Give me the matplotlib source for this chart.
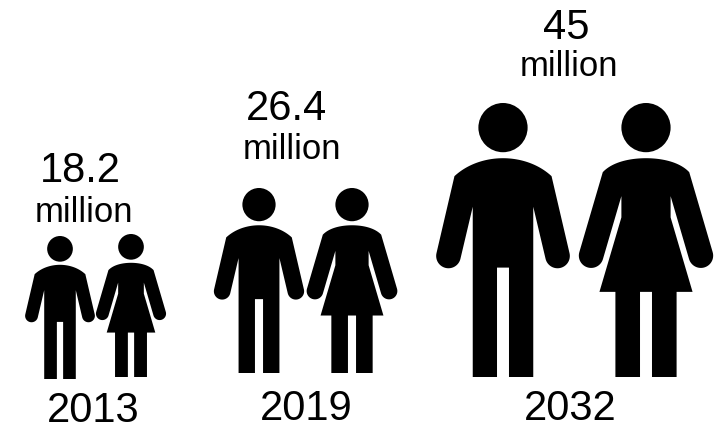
import numpy as np
import matplotlib
matplotlib.use("Agg")
import matplotlib.pyplot as plt
from matplotlib.path import Path
from matplotlib.patches import PathPatch, Circle

plt.rcParams['font.family'] = ['Liberation Sans', 'DejaVu Sans']

years = ["2013", "2019", "2032"]
populations = ["18.2", "26.4", "45"]
unit = "million"

# Pictogram placement per year: centre x, head top y, height in pixels
man_x = [60, 259, 503]
man_top = [236, 188, 103]
man_h = [143, 185, 274]
woman_x = [131, 352, 646]
woman_top = [234, 188, 103]
woman_h = [143, 185, 274]

# Label anchors per year: (x, baseline y)
value_pos = [(80, 182), (287, 120.5), (566, 39)]
unit_pos = [(83.5, 222), (292, 159), (569, 76)]
year_pos = [(93, 422), (306, 420.5), (570, 420)]

HEIGHT = 824.0
HEAD_R = 74.0
HEAD_CY = 74.0
HAND_R = 37.0


def arc(cx, cy, r, a0, a1, n=32):
    t = np.radians(np.linspace(a0, a1, n))
    return np.column_stack([cx + r * np.cos(t), cy + r * np.sin(t)])


def bezier(p0, p1, p2, p3, n=24):
    t = np.linspace(0, 1, n)[:, None]
    p0, p1, p2, p3 = map(np.asarray, (p0, p1, p2, p3))
    return ((1 - t) ** 3 * p0 + 3 * (1 - t) ** 2 * t * p1
            + 3 * (1 - t) * t ** 2 * p2 + t ** 3 * p3)


def mirrored(half):
    # Close a right-hand outline, running top-centre to bottom-centre, with its reflection
    left = half[::-1].copy()
    left[:, 0] *= -1
    return np.vstack([half, left[1:-1]])


def man_outline():
    half = np.vstack([
        bezier((0, 166), (50, 166), (105, 182), (146, 220)),
        arc(164, 460, HAND_R, -13, 167),
        [[91, 312], [91, 824], [18, 824], [18, 495], [0, 495]],
    ])
    return mirrored(half)


def woman_outline():
    half = np.vstack([
        bezier((0, 166), (45, 166), (100, 176), (130, 208)),
        arc(165, 459, HAND_R, -16, 164),
        [[74, 280], [74, 344], [140, 568], [92, 568], [92, 824],
         [18, 824], [18, 568], [0, 568]],
    ])
    return mirrored(half)


def draw_figure(ax, outline, cx, top, height):
    scale = height / HEIGHT
    pts = outline * scale + [cx, top]
    ax.add_patch(PathPatch(Path(np.vstack([pts, pts[:1]]), closed=True),
                           fc="black", ec="none"))
    ax.add_patch(Circle((cx, top + HEAD_CY * scale), HEAD_R * scale,
                        fc="black", ec="none"))


fig = plt.figure(figsize=(7.2, 4.26), dpi=100)
ax = fig.add_axes([0, 0, 1, 1])
ax.set_xlim(0, 720)
ax.set_ylim(426, 0)
ax.axis("off")

for i in range(len(years)):
    draw_figure(ax, man_outline(), man_x[i], man_top[i], man_h[i])
    draw_figure(ax, woman_outline(), woman_x[i], woman_top[i], woman_h[i])
    ax.text(*value_pos[i], populations[i], fontsize=30, ha="center", va="baseline")
    ax.text(*unit_pos[i], unit, fontsize=25, ha="center", va="baseline")
    ax.text(*year_pos[i], years[i], fontsize=30, ha="center", va="baseline")

fig.savefig("out.png", dpi=100)
